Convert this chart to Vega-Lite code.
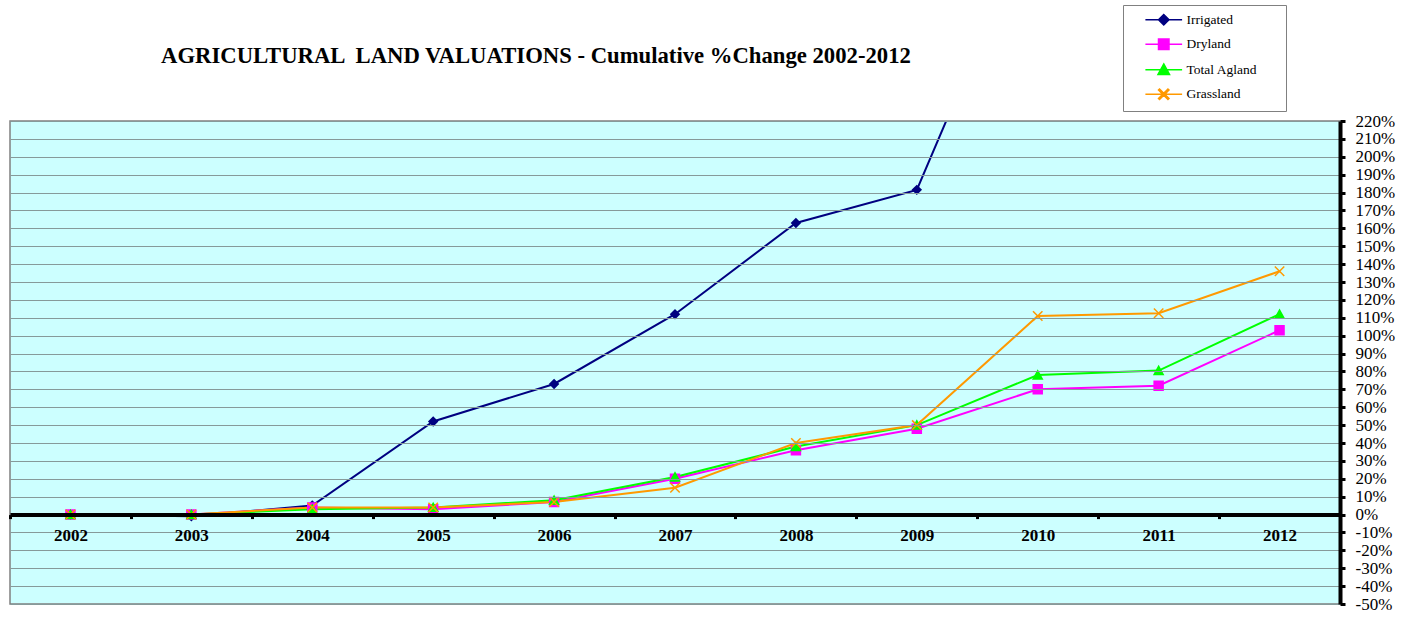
{
  "$schema": "https://vega.github.io/schema/vega-lite/v6.json",
  "autosize": {"type": "none"},
  "padding": {"left": 10, "top": 121, "right": 64, "bottom": 16},
  "width": 1330,
  "height": 483,
  "background": "white",
  "title": {
    "text": "AGRICULTURAL \u00a0LAND VALUATIONS - Cumulative %Change 2002-2012",
    "font": "Times New Roman, Liberation Serif, serif",
    "fontSize": 22.7,
    "fontWeight": "bold",
    "color": "black",
    "anchor": "start",
    "frame": "group",
    "dx": 151,
    "offset": 0,
    "dy": 63
  },
  "config": {
    "view": {"fill": "#CCFFFF", "stroke": "#808080", "strokeWidth": 1.5},
    "font": "Times New Roman, Liberation Serif, serif"
  },
  "data": {
    "values": [
      {"year": "2002", "series": "Irrigated", "value": 0},
      {"year": "2003", "series": "Irrigated", "value": -1},
      {"year": "2004", "series": "Irrigated", "value": 5},
      {"year": "2005", "series": "Irrigated", "value": 52},
      {"year": "2006", "series": "Irrigated", "value": 73},
      {"year": "2007", "series": "Irrigated", "value": 112},
      {"year": "2008", "series": "Irrigated", "value": 163},
      {"year": "2009", "series": "Irrigated", "value": 181.5},
      {"year": "2010", "series": "Irrigated", "value": 340},
      {"year": "2011", "series": "Irrigated", "value": 350},
      {"year": "2012", "series": "Irrigated", "value": 420},
      {"year": "2002", "series": "Dryland", "value": 0},
      {"year": "2003", "series": "Dryland", "value": 0},
      {"year": "2004", "series": "Dryland", "value": 4},
      {"year": "2005", "series": "Dryland", "value": 3},
      {"year": "2006", "series": "Dryland", "value": 7},
      {"year": "2007", "series": "Dryland", "value": 20},
      {"year": "2008", "series": "Dryland", "value": 36},
      {"year": "2009", "series": "Dryland", "value": 48},
      {"year": "2010", "series": "Dryland", "value": 70},
      {"year": "2011", "series": "Dryland", "value": 72},
      {"year": "2012", "series": "Dryland", "value": 103},
      {"year": "2002", "series": "Total Agland", "value": 0},
      {"year": "2003", "series": "Total Agland", "value": 0},
      {"year": "2004", "series": "Total Agland", "value": 3},
      {"year": "2005", "series": "Total Agland", "value": 4},
      {"year": "2006", "series": "Total Agland", "value": 8},
      {"year": "2007", "series": "Total Agland", "value": 21},
      {"year": "2008", "series": "Total Agland", "value": 38},
      {"year": "2009", "series": "Total Agland", "value": 50},
      {"year": "2010", "series": "Total Agland", "value": 78},
      {"year": "2011", "series": "Total Agland", "value": 80.5},
      {"year": "2012", "series": "Total Agland", "value": 112},
      {"year": "2002", "series": "Grassland", "value": 0},
      {"year": "2003", "series": "Grassland", "value": 0},
      {"year": "2004", "series": "Grassland", "value": 4},
      {"year": "2005", "series": "Grassland", "value": 4},
      {"year": "2006", "series": "Grassland", "value": 7},
      {"year": "2007", "series": "Grassland", "value": 15},
      {"year": "2008", "series": "Grassland", "value": 40},
      {"year": "2009", "series": "Grassland", "value": 50},
      {"year": "2010", "series": "Grassland", "value": 111},
      {"year": "2011", "series": "Grassland", "value": 112.5},
      {"year": "2012", "series": "Grassland", "value": 136}
    ]
  },
  "encoding": {
    "x": {
      "field": "year",
      "type": "ordinal",
      "scale": {"type": "band", "paddingInner": 0, "paddingOuter": 0},
      "axis": {
        "title": null,
        "orient": "bottom",
        "offset": -89.4,
        "labelAngle": 0,
        "labelFont": "Times New Roman, Liberation Serif, serif",
        "labelFontSize": 17,
        "labelFontWeight": "bold",
        "labelColor": "black",
        "labelPadding": 9,
        "domainColor": "black",
        "domainWidth": 4,
        "tickColor": "black",
        "tickWidth": 3,
        "tickSize": 4,
        "tickBand": "extent",
        "grid": false,
        "zindex": 1
      }
    },
    "y": {
      "field": "value",
      "type": "quantitative",
      "scale": {"domain": [-50, 220], "nice": false, "zero": false},
      "axis": {
        "title": null,
        "orient": "right",
        "values": [-50, -40, -30, -20, -10, 0, 10, 20, 30, 40, 50, 60, 70, 80, 90, 100, 110, 120, 130, 140, 150, 160, 170, 180, 190, 200, 210, 220],
        "labelExpr": "datum.value + '%'",
        "labelFont": "Times New Roman, Liberation Serif, serif",
        "labelFontSize": 17,
        "labelColor": "black",
        "labelPadding": 10,
        "labelBaseline": "middle",
        "domainColor": "black",
        "domainWidth": 4,
        "tickColor": "black",
        "tickWidth": 3,
        "tickSize": 5,
        "grid": true,
        "gridColor": "#869a9a",
        "gridWidth": 1.2,
        "gridOpacity": 1,
        "zindex": 1
      }
    },
    "color": {
      "field": "series",
      "type": "nominal",
      "scale": {
        "domain": ["Irrigated", "Dryland", "Total Agland", "Grassland"],
        "range": ["#000080", "#FF00FF", "#00FF00", "#FF9900"]
      }
    }
  },
  "layer": [
    {
      "mark": {"type": "line", "strokeWidth": 2, "clip": true}
    },
    {
      "mark": {"type": "point", "filled": true, "opacity": 1, "strokeWidth": 0, "clip": true},
      "encoding": {
        "size": {"value": 110},
        "shape": {
          "field": "series",
          "type": "nominal",
          "scale": {
            "domain": ["Irrigated", "Dryland", "Total Agland", "Grassland"],
            "range": [
              "M-3.5,0H3.5M0,-1L1,0L0,1L-1,0Z",
              "M-3.5,0H3.5M-1,-1H1V1H-1Z",
              "M-3.5,0H3.5M0,-1.1L1.1,0.9L-1.1,0.9Z",
              "M-3.5,0H3.5M-1,-0.8L-0.8,-1L1,0.8L0.8,1ZM1,-0.8L-0.8,1L-1,0.8L0.8,-1Z"
            ]
          },
          "legend": {
            "title": null,
            "orient": "none",
            "legendX": 1113,
            "legendY": -116,
            "direction": "vertical",
            "padding": 8,
            "strokeColor": "#808080",
            "fillColor": "white",
            "symbolSize": 110,
            "symbolOffset": 26,
            "labelOffset": 16,
            "labelFont": "Times New Roman, Liberation Serif, serif",
            "labelFontSize": 13.5,
            "labelColor": "black",
            "labelExpr": "datum.label + '\u2800\u2800'",
            "rowPadding": 7.5,
            "symbolStrokeWidth": 1.5,
            "encode": {
              "symbols": {
                "update": {
                  "stroke": {"scale": "color", "field": "value"},
                  "strokeOpacity": {"value": 1},
                  "strokeWidth": {"value": 1.5}
                }
              }
            }
          }
        }
      }
    }
  ]
}
